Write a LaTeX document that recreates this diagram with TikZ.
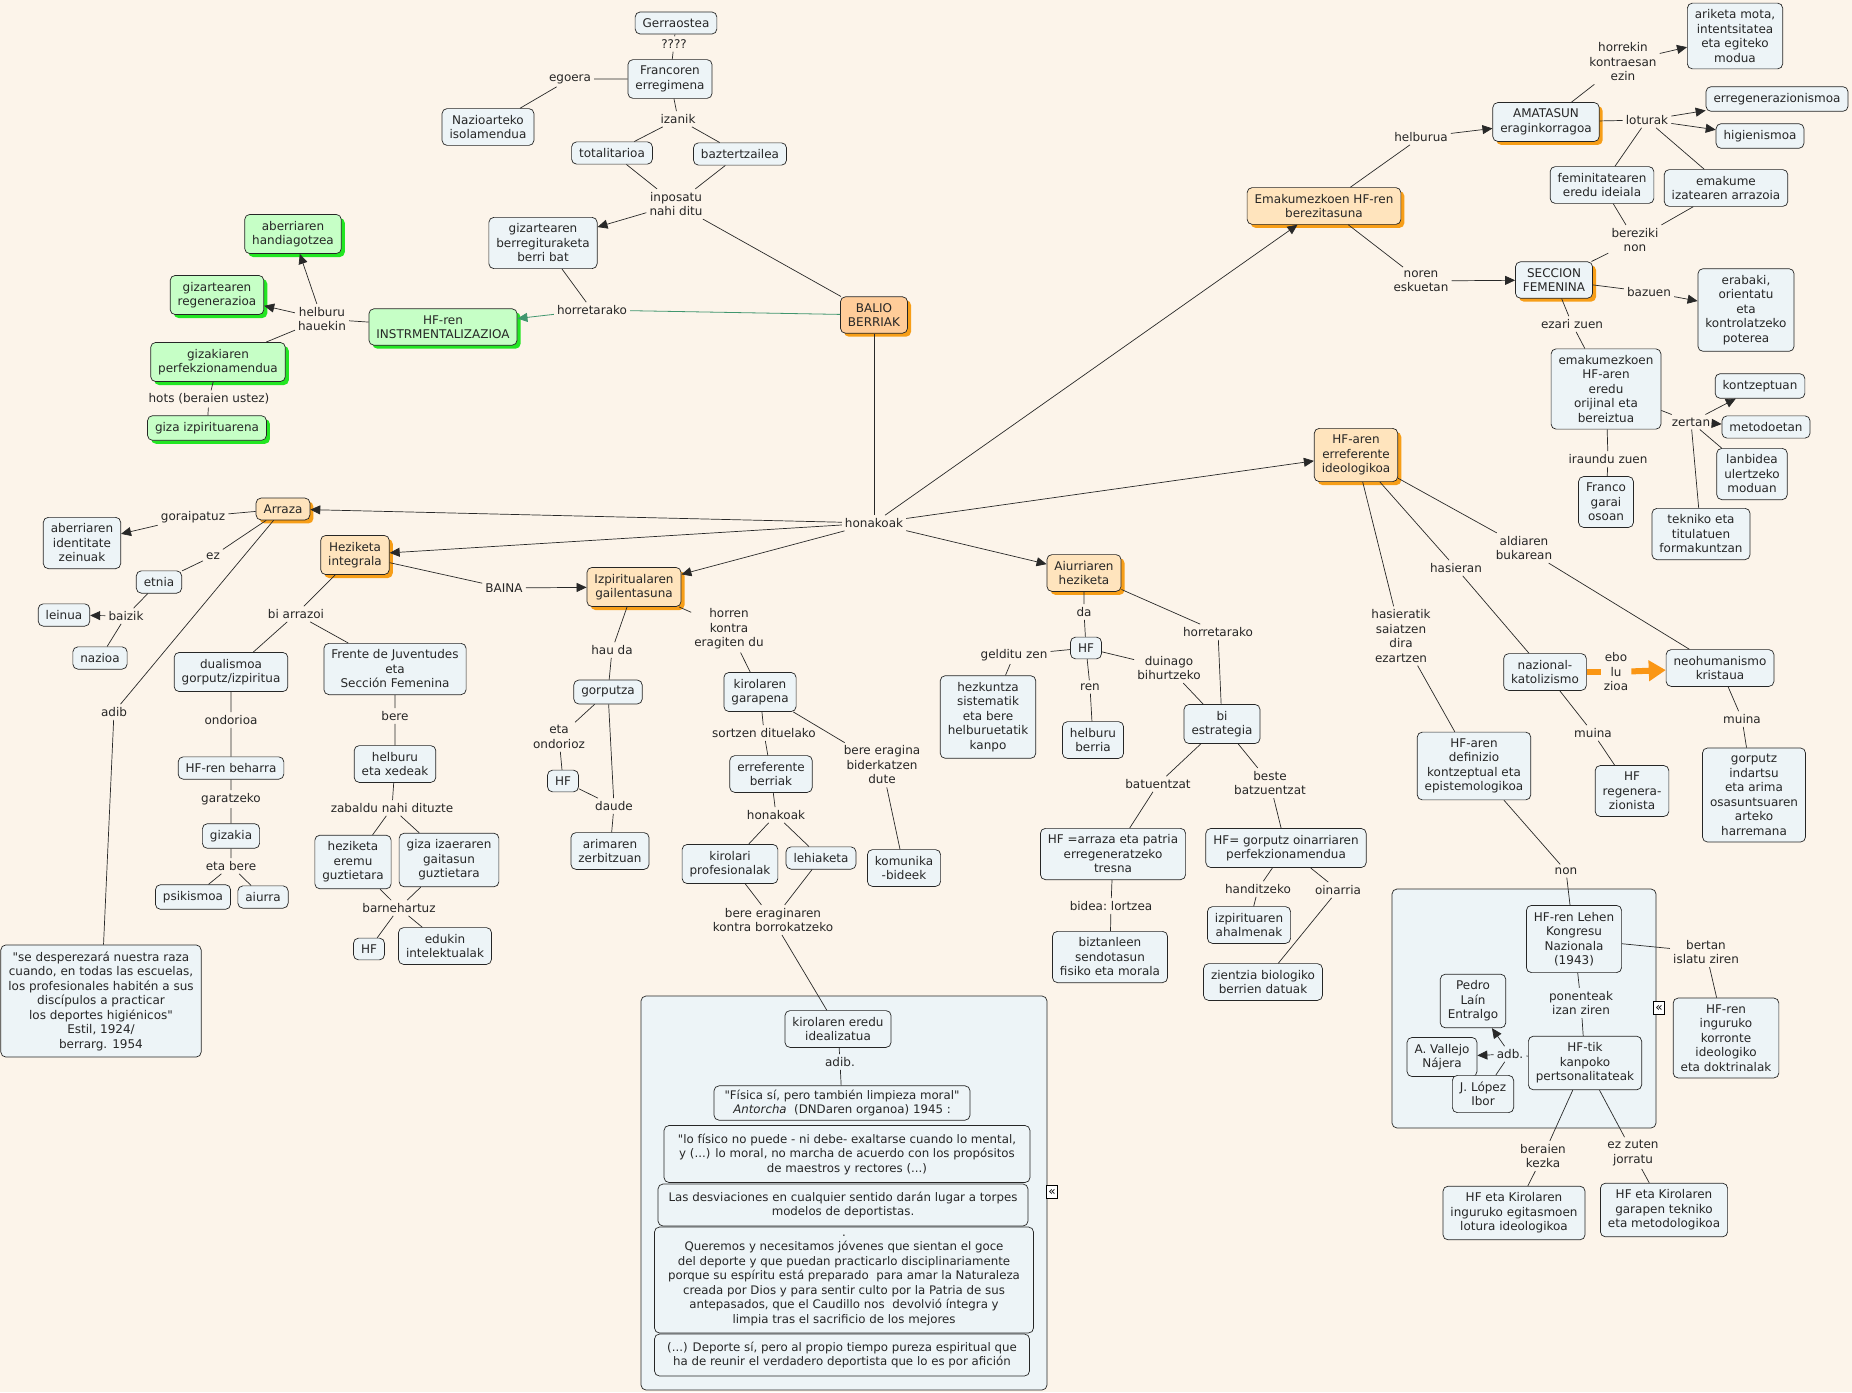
\documentclass[tikz,border=0pt]{standalone}
\usepackage{fontspec}
\setmainfont{DejaVu Sans}[Ligatures=TeXOff]
\usepackage{tikz}
\usetikzlibrary{arrows.meta,shadows}
\definecolor{bgc}{RGB}{252,244,234}
\definecolor{cfill}{RGB}{237,244,247}
\definecolor{ofill}{RGB}{255,228,189}
\definecolor{odark}{RGB}{255,204,153}
\definecolor{oshad}{RGB}{247,158,24}
\definecolor{gfill}{RGB}{198,255,198}
\definecolor{gshad}{RGB}{34,230,34}
\definecolor{linec}{RGB}{40,40,40}
\definecolor{glink}{RGB}{64,150,110}
\definecolor{thick}{RGB}{250,150,20}

\begin{document}
\begin{tikzpicture}[x=1pt, y=-1pt, font=\fontsize{12}{14.5}\selectfont,
  concept/.style={draw=black!85, fill=cfill, rounded corners=5pt, align=center,
    inner xsep=7.5pt, inner ysep=6.5pt, line width=0.7pt, text=black!85},
  oshadow/.style={drop shadow={shadow xshift=3.5pt, shadow yshift=-3.5pt, fill=oshad, opacity=1}},
  gshadow/.style={drop shadow={shadow xshift=3.5pt, shadow yshift=-3.5pt, fill=gshad, opacity=1}},
  orange/.style={concept, fill=ofill, oshadow},
  blueor/.style={concept, oshadow},
  green/.style={concept, fill=gfill, gshadow},
  quotebox/.style={concept, font=\fontsize{11.8}{14.5}\selectfont, inner xsep=4pt, inner ysep=4pt},
  holder/.style={concept, inner sep=0pt},
  fold/.style={draw=black, line width=0.9pt, fill=white, inner sep=0pt, minimum width=11pt,
    minimum height=13pt, font=\fontsize{12}{12}\selectfont},
  phrase/.style={inner sep=3pt, align=center, text=black!85},
  ln/.style={draw=linec, line width=0.7pt},
  arr/.style={ln, -{Triangle[length=10pt,width=9pt]}},
  gln/.style={draw=glink, line width=0.8pt},
  garr/.style={gln, -{Triangle[length=10pt,width=9pt]}},
  bigarr/.style={draw=thick, line width=6pt, -{Triangle[length=17pt,width=20pt]}}]

\fill[bgc] (0,0) rectangle (1852,1392);
\useasboundingbox (0,0) rectangle (1852,1392);

% Francoren erregimena
\node[concept] (gerra) at (676,23) {Gerraostea};
\node[phrase] (galde) at (674,44) {????};
\node[concept] (franco) at (670,79) {Francoren\\erregimena};
\node[phrase] (egoera) at (570,79) {egoera};
\node[concept] (nazio) at (488,127) {Nazioarteko\\isolamendua};
\node[phrase] (izanik) at (678,119) {izanik};
\node[concept] (total) at (612,153) {totalitarioa};
\node[concept] (bazter) at (740,154) {baztertzailea};
\node[phrase] (inposatu) at (676,204) {inposatu\\nahi ditu};
\node[concept] (berreg) at (543,243) {gizartearen\\berregituraketa\\berri bat};
\node[phrase] (horretA) at (592,310) {horretarako};
\node[concept, fill=odark, oshadow] (balio) at (874,315) {BALIO\\BERRIAK};

% instrumentalizazioa
\node[green] (instr) at (443,327) {HF-ren\\INSTRMENTALIZAZIOA};
\node[phrase] (helbhau) at (322,319) {helburu\\hauekin};
\node[green] (aberhand) at (293,234) {aberriaren\\handiagotzea};
\node[green] (gizreg) at (217,295) {gizartearen\\regenerazioa};
\node[green] (gizperf) at (218,362) {gizakiaren\\perfekzionamendua};
\node[phrase] (hots) at (209,399) {hots (beraien ustez)};
\node[green] (gizizp) at (207,428) {giza izpirituarena};

\draw[ln] (gerra) -- (galde) (galde) -- (franco);
\draw[ln] (franco) -- (egoera) (egoera) -- (nazio);
\draw[ln] (franco) -- (izanik) (izanik) -- (total) (izanik) -- (bazter);
\draw[ln] (total) -- (inposatu) (bazter) -- (inposatu) (balio) -- (inposatu);
\draw[arr] (inposatu) -- (berreg);
\draw[ln] (berreg) -- (horretA);
\draw[gln] (balio) -- (horretA);
\draw[garr] (horretA) -- (instr);
\draw[ln] (instr) -- (helbhau);
\draw[arr] (helbhau) -- (aberhand);
\draw[arr] (helbhau) -- (gizreg);
\draw[ln] (helbhau) -- (gizperf);
\draw[ln] (gizperf) -- (hots) (hots) -- (gizizp);

% honakoak
\node[phrase] (honak) at (874,523) {honakoak};
\draw[ln] (balio) -- (honak);

% Emakumezkoen HF
\node[orange] (emak) at (1324,206) {Emakumezkoen HF-ren\\berezitasuna};
\node[phrase] (helburua) at (1421,137) {helburua};
\node[blueor] (amat) at (1546,122) {AMATASUN\\eraginkorragoa};
\node[phrase] (horrekin) at (1623,62) {horrekin\\kontraesan\\ezin};
\node[concept] (ariketa) at (1735,36) {ariketa mota,\\intentsitatea\\eta egiteko\\modua};
\node[phrase] (loturak) at (1647,120) {loturak};
\node[concept] (erregen) at (1777,99) {erregenerazionismoa};
\node[concept] (higien) at (1760,136) {higienismoa};
\node[concept] (femin) at (1602,185) {feminitatearen\\eredu ideiala};
\node[concept] (emakiz) at (1726,188) {emakume\\izatearen arrazoia};
\node[phrase] (bereziki) at (1635,240) {bereziki\\non};
\node[phrase] (noren) at (1421,281) {noren\\eskuetan};
\node[blueor] (seccion) at (1554,280) {SECCION\\FEMENINA};
\node[phrase] (bazuen) at (1649,292) {bazuen};
\node[concept] (erabaki) at (1746,310) {erabaki,\\orientatu\\eta\\kontrolatzeko\\poterea};
\node[phrase] (ezari) at (1572,324) {ezari zuen};
\node[concept] (eredu) at (1606,389) {emakumezkoen\\HF-aren\\eredu\\orijinal eta\\bereiztua};
\node[phrase] (zertan) at (1691,422) {zertan};
\node[concept] (kontz) at (1760,386) {kontzeptuan};
\node[concept] (metod) at (1766,427) {metodoetan};
\node[concept] (lanb) at (1752,474) {lanbidea\\ulertzeko\\moduan};
\node[phrase] (iraundu) at (1608,459) {iraundu zuen};
\node[concept] (francog) at (1606,502) {Franco\\garai\\osoan};
\node[concept] (tekniko) at (1701,534) {tekniko eta\\titulatuen\\formakuntzan};

\draw[arr] (honak) -- (emak);
\draw[ln] (emak) -- (helburua);
\draw[arr] (helburua) -- (amat);
\draw[ln] (amat) -- (horrekin);
\draw[arr] (horrekin) -- (ariketa);
\draw[ln] (amat) -- (loturak);
\draw[arr] (loturak) -- (erregen);
\draw[arr] (loturak) -- (higien);
\draw[ln] (loturak) -- (femin) (loturak) -- (emakiz);
\draw[ln] (femin) -- (bereziki) (emakiz) -- (bereziki) (bereziki) -- (seccion);
\draw[ln] (emak) -- (noren);
\draw[arr] (noren) -- (seccion);
\draw[ln] (seccion) -- (bazuen);
\draw[arr] (bazuen) -- (erabaki);
\draw[ln] (seccion) -- (ezari) (ezari) -- (eredu);
\draw[ln] (eredu) -- (zertan);
\draw[arr] (zertan) -- (kontz);
\draw[arr] (zertan) -- (metod);
\draw[ln] (zertan) -- (lanb) (zertan) -- (tekniko);
\draw[ln] (eredu) -- (iraundu) (iraundu) -- (francog);

% erreferente ideologikoa
\node[orange] (erref) at (1356,455) {HF-aren\\erreferente\\ideologikoa};
\node[phrase] (hasieratik) at (1401,636) {hasieratik\\saiatzen\\dira\\ezartzen};
\node[phrase] (hasieran) at (1456,568) {hasieran};
\node[phrase] (aldiaren) at (1524,548) {aldiaren\\bukarean};
\node[concept] (nazkat) at (1545,672) {nazional-\\katolizismo};
\node[phrase] (ebolu) at (1616,672) {ebo\\lu\\zioa};
\node[concept] (neohum) at (1720,668) {neohumanismo\\kristaua};
\node[phrase] (muinaA) at (1593,733) {muina};
\node[phrase] (muinaB) at (1742,719) {muina};
\node[concept] (defin) at (1474,766) {HF-aren\\definizio\\kontzeptual eta\\epistemologikoa};
\node[concept] (hfregen) at (1632,791) {HF\\regenera-\\zionista};
\node[concept] (gorpind) at (1754,795) {gorputz\\indartsu\\eta arima\\osasuntsuaren\\arteko\\harremana};
\node[phrase] (non) at (1566,871) {non};

\node[holder, minimum width=264pt, minimum height=239pt] (kongbox) at (1524,1008.5) {};
\node[fold] (foldB) at (1659,1008) {«};
\node[concept] (kongr) at (1574,939) {HF-ren Lehen\\Kongresu\\Nazionala\\(1943)};
\node[phrase] (bertan) at (1706,952) {bertan\\islatu ziren};
\node[concept] (korr) at (1726,1038) {HF-ren\\inguruko\\korronte\\ideologiko\\eta doktrinalak};
\node[phrase] (ponen) at (1581,1003) {ponenteak\\izan ziren};
\node[concept] (pedro) at (1473,1001) {Pedro\\Laín\\Entralgo};
\node[concept] (vallejo) at (1442,1057) {A. Vallejo\\Nájera};
\node[phrase] (adb) at (1510,1054) {adb.};
\node[concept] (lopez) at (1483,1094) {J. López\\Ibor};
\node[concept] (kanpo) at (1585,1063) {HF-tik\\kanpoko\\pertsonalitateak};
\node[phrase] (kezka) at (1543,1156) {beraien\\kezka};
\node[phrase] (jorratu) at (1633,1153) {ez zuten\\jorratu};
\node[concept] (lotura) at (1514,1213) {HF eta Kirolaren\\inguruko egitasmoen\\lotura ideologikoa};
\node[concept] (garapen) at (1664,1210) {HF eta Kirolaren\\garapen tekniko\\eta metodologikoa};

\draw[arr] (honak) -- (erref);
\draw[ln] (erref) -- (hasieratik) (hasieratik) -- (defin);
\draw[ln] (erref) -- (hasieran) (hasieran) -- (nazkat);
\draw[ln] (erref) -- (aldiaren) (aldiaren) -- (neohum);
\draw[draw=thick, line width=6pt] (nazkat) -- (ebolu);
\draw[bigarr] (ebolu) -- (neohum);
\draw[ln] (nazkat) -- (muinaA) (muinaA) -- (hfregen);
\draw[ln] (neohum) -- (muinaB) (muinaB) -- (gorpind);
\draw[ln] (defin) -- (non) (non) -- (kongr);
\draw[ln] (kongr) -- (bertan) (bertan) -- (korr);
\draw[ln] (kongr) -- (ponen) (ponen) -- (kanpo);
\draw[ln] (kanpo) -- (adb);
\draw[arr] (adb) -- (vallejo);
\draw[arr] (adb) -- (pedro);
\draw[ln] (adb) -- (lopez);
\draw[ln] (kanpo) -- (kezka) (kezka) -- (lotura);
\draw[ln] (kanpo) -- (jorratu) (jorratu) -- (garapen);

% Arraza
\node[orange] (arraza) at (283,509) {Arraza};
\node[phrase] (gorai) at (193,517) {goraipatuz};
\node[concept] (aberid) at (82,543) {aberriaren\\identitate\\zeinuak};
\node[phrase] (ez) at (213,556) {ez};
\node[concept] (etnia) at (159,582) {etnia};
\node[phrase] (baizik) at (126,616) {baizik};
\node[concept] (leinua) at (64,615) {leinua};
\node[concept] (nazioa) at (100,658) {nazioa};
\node[phrase] (adibA) at (114,712) {adib};
\node[concept] (estil) at (101,1001) {"se desperezará nuestra raza\\cuando, en todas las escuelas,\\los profesionales habitén a sus\\discípulos a practicar\\los deportes higiénicos"\\Estil, 1924/\\berrarg. 1954};

\draw[arr] (honak) -- (arraza);
\draw[ln] (arraza) -- (gorai);
\draw[arr] (gorai) -- (aberid);
\draw[ln] (arraza) -- (ez) (ez) -- (etnia);
\draw[ln] (etnia) -- (baizik) (baizik) -- (nazioa);
\draw[arr] (baizik) -- (leinua);
\draw[ln] (arraza) -- (adibA) (adibA) -- (estil);

% Heziketa integrala
\node[orange] (hezint) at (355,555) {Heziketa\\integrala};
\node[phrase] (baina) at (504,588) {BAINA};
\node[orange] (izpir) at (634,587) {Izpiritualaren\\gailentasuna};
\node[phrase] (biarr) at (296,614) {bi arrazoi};
\node[concept] (dual) at (231,672) {dualismoa\\gorputz/izpiritua};
\node[concept] (frente) at (395,669) {Frente de Juventudes\\eta\\Sección Femenina};
\node[phrase] (ondorioa) at (231,720) {ondorioa};
\node[concept] (hfbeh) at (231,768) {HF-ren beharra};
\node[phrase] (garatz) at (231,799) {garatzeko};
\node[concept] (gizakia) at (231,836) {gizakia};
\node[phrase] (etabere) at (231,866) {eta bere};
\node[concept] (psik) at (193,897) {psikismoa};
\node[concept] (aiurra) at (263,897) {aiurra};
\node[phrase] (bere) at (395,716) {bere};
\node[concept] (helbx) at (395,764) {helburu\\eta xedeak};
\node[phrase] (zabaldu) at (392,808) {zabaldu nahi dituzte};
\node[concept] (hezerem) at (353,862) {heziketa\\eremu\\guztietara};
\node[concept] (gizaiz) at (449,860) {giza izaeraren\\gaitasun\\guztietara};
\node[phrase] (barne) at (399,908) {barnehartuz};
\node[concept] (hfA) at (369,949) {HF};
\node[concept] (edukin) at (445,946) {edukin\\intelektualak};

\draw[arr] (honak) -- (hezint);
\draw[ln] (hezint) -- (baina);
\draw[arr] (baina) -- (izpir);
\draw[arr] (honak) -- (izpir);
\draw[ln] (hezint) -- (biarr) (biarr) -- (dual) (biarr) -- (frente);
\draw[ln] (dual) -- (ondorioa) (ondorioa) -- (hfbeh) (hfbeh) -- (garatz)
  (garatz) -- (gizakia) (gizakia) -- (etabere) (etabere) -- (psik) (etabere) -- (aiurra);
\draw[ln] (frente) -- (bere) (bere) -- (helbx) (helbx) -- (zabaldu)
  (zabaldu) -- (hezerem) (zabaldu) -- (gizaiz);
\draw[ln] (hezerem) -- (barne) (gizaiz) -- (barne) (barne) -- (hfA) (barne) -- (edukin);

% Izpiritualaren gailentasuna
\node[phrase] (hauda) at (612,650) {hau da};
\node[phrase] (horren) at (729,629) {horren\\kontra\\eragiten du};
\node[concept] (gorputza) at (608,692) {gorputza};
\node[phrase] (etaond) at (559,737) {eta\\ondorioz};
\node[concept] (hfB) at (563,781) {HF};
\node[phrase] (daude) at (614,806) {daude};
\node[concept] (arimaren) at (610,851) {arimaren\\zerbitzuan};
\node[concept] (kirgar) at (760,692) {kirolaren\\garapena};
\node[phrase] (sortzen) at (764,733) {sortzen dituelako};
\node[concept] (errefb) at (771,774) {erreferente\\berriak};
\node[phrase] (eragina) at (882,765) {bere eragina\\biderkatzen\\dute};
\node[phrase] (honakB) at (776,815) {honakoak};
\node[concept] (kirprof) at (730,864) {kirolari\\profesionalak};
\node[concept] (lehia) at (821,858) {lehiaketa};
\node[concept] (komun) at (904,868) {komunika\\-bideek};
\node[phrase] (borrok) at (773,920) {bere eraginaren\\kontra borrokatzeko};

\node[holder, minimum width=406pt, minimum height=394pt] (eredubox) at (844,1193) {};
\node[fold] (foldA) at (1052,1192) {«};
\node[concept] (kirered) at (838,1029) {kirolaren eredu\\idealizatua};
\node[phrase] (adibB) at (840,1062) {adib.};
\node[quotebox, minimum width=256pt] (fisica) at (842,1103) {"Física sí, pero también limpieza moral"\\\textit{Antorcha}\ \ (DNDaren organoa) 1945 :};
\node[quotebox, minimum width=366pt, minimum height=57pt] (lofisico) at (847,1154) {"lo físico no puede - ni debe- exaltarse cuando lo mental,\\ y (...) lo moral, no marcha de acuerdo con los propósitos\\de maestros y rectores (...)};
\node[quotebox, minimum width=370pt, minimum height=42pt] (desv) at (843,1205) {Las desviaciones en cualquier sentido darán lugar a torpes\\modelos de deportistas.};
\node[quotebox, minimum width=379pt, minimum height=106pt] (quer) at (844,1280) {.\\Queremos y necesitamos jóvenes que sientan el goce\\del deporte y que puedan practicarlo disciplinariamente\\porque su espíritu está preparado\ \ para amar la Naturaleza\\creada por Dios y para sentir culto por la Patria de sus\\antepasados, que el Caudillo nos\ \ devolvió íntegra y\\limpia tras el sacrificio de los mejores};
\node[quotebox, minimum width=375pt, minimum height=42pt] (deporte) at (842,1355) {(...) Deporte sí, pero al propio tiempo pureza espiritual que\\ha de reunir el verdadero deportista que lo es por afición};

\draw[ln] (izpir) -- (hauda) (hauda) -- (gorputza);
\draw[ln] (gorputza) -- (etaond) (etaond) -- (hfB) (hfB) -- (daude) (gorputza) -- (daude) (daude) -- (arimaren);
\draw[ln] (izpir) -- (horren) (horren) -- (kirgar);
\draw[ln] (kirgar) -- (sortzen) (sortzen) -- (errefb) (errefb) -- (honakB)
  (honakB) -- (kirprof) (honakB) -- (lehia);
\draw[ln] (kirgar) -- (eragina) (eragina) -- (komun);
\draw[ln] (kirprof) -- (borrok) (lehia) -- (borrok) (borrok) -- (kirered);
\draw[ln] (kirered) -- (adibB) (adibB) -- (fisica);

% Aiurriaren heziketa
\node[orange] (aiurr) at (1084,573) {Aiurriaren\\heziketa};
\node[phrase] (da) at (1084,612) {da};
\node[phrase] (horretB) at (1218,632) {horretarako};
\node[concept] (hfC) at (1086,648) {HF};
\node[phrase] (gelditu) at (1014,655) {gelditu zen};
\node[concept] (hezk) at (988,717) {hezkuntza\\sistematik\\eta bere\\helburuetatik\\kanpo};
\node[phrase] (ren) at (1090,687) {ren};
\node[concept] (helbber) at (1093,740) {helburu\\berria};
\node[phrase] (duinago) at (1169,668) {duinago\\bihurtzeko};
\node[concept] (biestr) at (1222,724) {bi\\estrategia};
\node[phrase] (batu) at (1158,784) {batuentzat};
\node[phrase] (beste) at (1270,783) {beste\\batzuentzat};
\node[concept] (hfarraza) at (1113,854) {HF =arraza eta patria\\erregeneratzeko\\tresna};
\node[concept] (hfgorp) at (1286,848) {HF= gorputz oinarriaren\\perfekzionamendua};
\node[phrase] (bidea) at (1111,906) {bidea:\ lortzea};
\node[phrase] (handi) at (1258,889) {handitzeko};
\node[phrase] (oinarria) at (1338,890) {oinarria};
\node[concept] (izpahal) at (1249,925) {izpirituaren\\ahalmenak};
\node[concept] (biztan) at (1110,957) {biztanleen\\sendotasun\\fisiko eta morala};
\node[concept] (zientzia) at (1263,982) {zientzia biologiko\\berrien datuak};

\draw[arr] (honak) -- (aiurr);
\draw[ln] (aiurr) -- (da) (da) -- (hfC);
\draw[ln] (hfC) -- (gelditu) (gelditu) -- (hezk);
\draw[ln] (hfC) -- (ren) (ren) -- (helbber);
\draw[ln] (hfC) -- (duinago) (duinago) -- (biestr);
\draw[ln] (aiurr) -- (horretB) (horretB) -- (biestr);
\draw[ln] (biestr) -- (batu) (batu) -- (hfarraza);
\draw[ln] (biestr) -- (beste) (beste) -- (hfgorp);
\draw[ln] (hfarraza) -- (bidea) (bidea) -- (biztan);
\draw[ln] (hfgorp) -- (handi) (handi) -- (izpahal);
\draw[ln] (hfgorp) -- (oinarria) (oinarria) -- (zientzia);
\end{tikzpicture}
\end{document}
